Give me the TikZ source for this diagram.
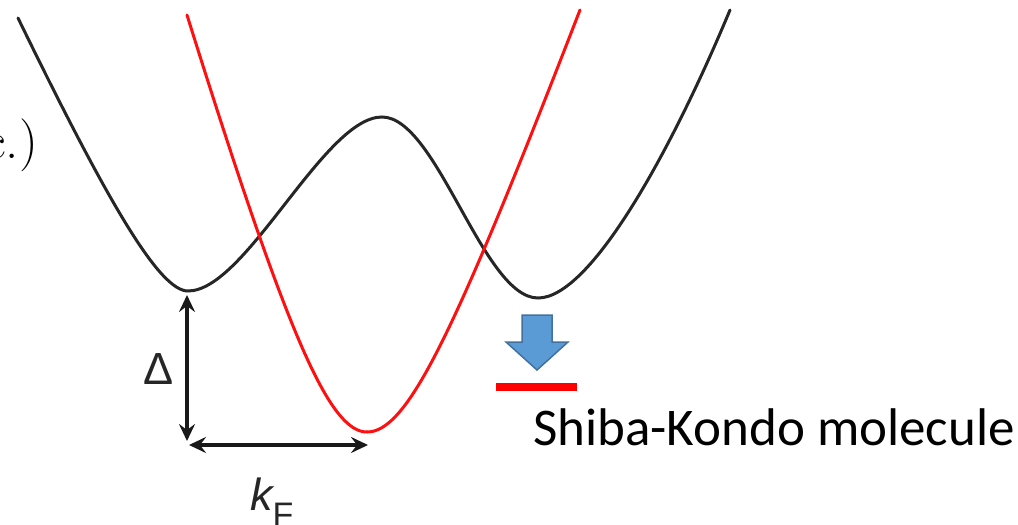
\documentclass[tikz,border=0pt]{standalone}
\usepackage{fontspec}
\newfontfamily\calib{Carlito}
\newfontfamily\arialf{Liberation Sans}
\usetikzlibrary{arrows.meta}
\definecolor{officeblue}{HTML}{5B9BD5}
\definecolor{officeblueline}{HTML}{41719C}
\definecolor{bandred}{HTML}{FF1010}
\tikzset{
  band/.style={line width=3pt, line cap=round},
  dimarrow/.style={line width=3.6pt, {Stealth[length=17pt,width=16pt,inset=6pt]}-{Stealth[length=17pt,width=16pt,inset=6pt]}},
}
\begin{document}
\begin{tikzpicture}[x=1pt,y=-1pt]
\useasboundingbox (0,0) rectangle (1018,525);
% superconducting (black) band
\coordinate (bS) at (18,18);
\coordinate (bM1) at (188,291);
\coordinate (bMax) at (382,117);
\coordinate (bM2) at (538,298);
\coordinate (bE) at (730,10);
\draw[band, black!85] (bS) .. controls (110,207) and (160,291) .. (bM1)
  .. controls (246,291) and (324,117) .. (bMax)
  .. controls (437,117) and (483,298) .. (bM2)
  .. controls (590,298) and (670,154) .. (bE);
% normal (red) band
\draw[band, bandred] plot[domain=187:367, samples=90] ({\x},{432+255-100*sqrt(2.55*2.55+(3.454*(\x-367)/100)^2)});
\draw[band, bandred] plot[domain=367:580, samples=100] ({\x},{432+184-100*sqrt(1.84*1.84+(2.711*(\x-367)/100)^2)});
% label c.)
\node[anchor=base east, inner sep=0pt, font=\fontsize{53}{53}\selectfont] (lab) at (38,158) {c.)};
% dimension arrows
\coordinate (gapTop) at (187,295);
\coordinate (gapBot) at (187,441);
\coordinate (kL) at (189,445);
\coordinate (kR) at (368,445);
\draw[dimarrow, black!90] (gapTop) -- (gapBot);
\draw[dimarrow, black!90] (kL) -- (kR);
\node[inner sep=0pt, font=\arialf\fontsize{45}{45}\selectfont, text=black!85] (delta) at (159,369) {Δ};
\node[anchor=base west, inner sep=0pt, font=\arialf\fontsize{45}{45}\selectfont, text=black!85] (kf) at (250,510) {\itshape k\fontsize{34}{34}\selectfont\raisebox{-16pt}{\upshape F}};
% block arrow
\draw[fill=officeblue, draw=officeblueline, line width=1.5pt, line join=miter]
  (522,315) -- (552,315) -- (552,342) -- (568,342) -- (537,370) -- (506,342) -- (522,342) -- cycle;
% red level
\fill[red] (496,383) rectangle (577,391);
\node[anchor=base west, inner sep=0pt, font=\calib\fontsize{53}{53}\selectfont] (mol) at (533,445) {Shiba-Kondo molecule};
\end{tikzpicture}
\end{document}
